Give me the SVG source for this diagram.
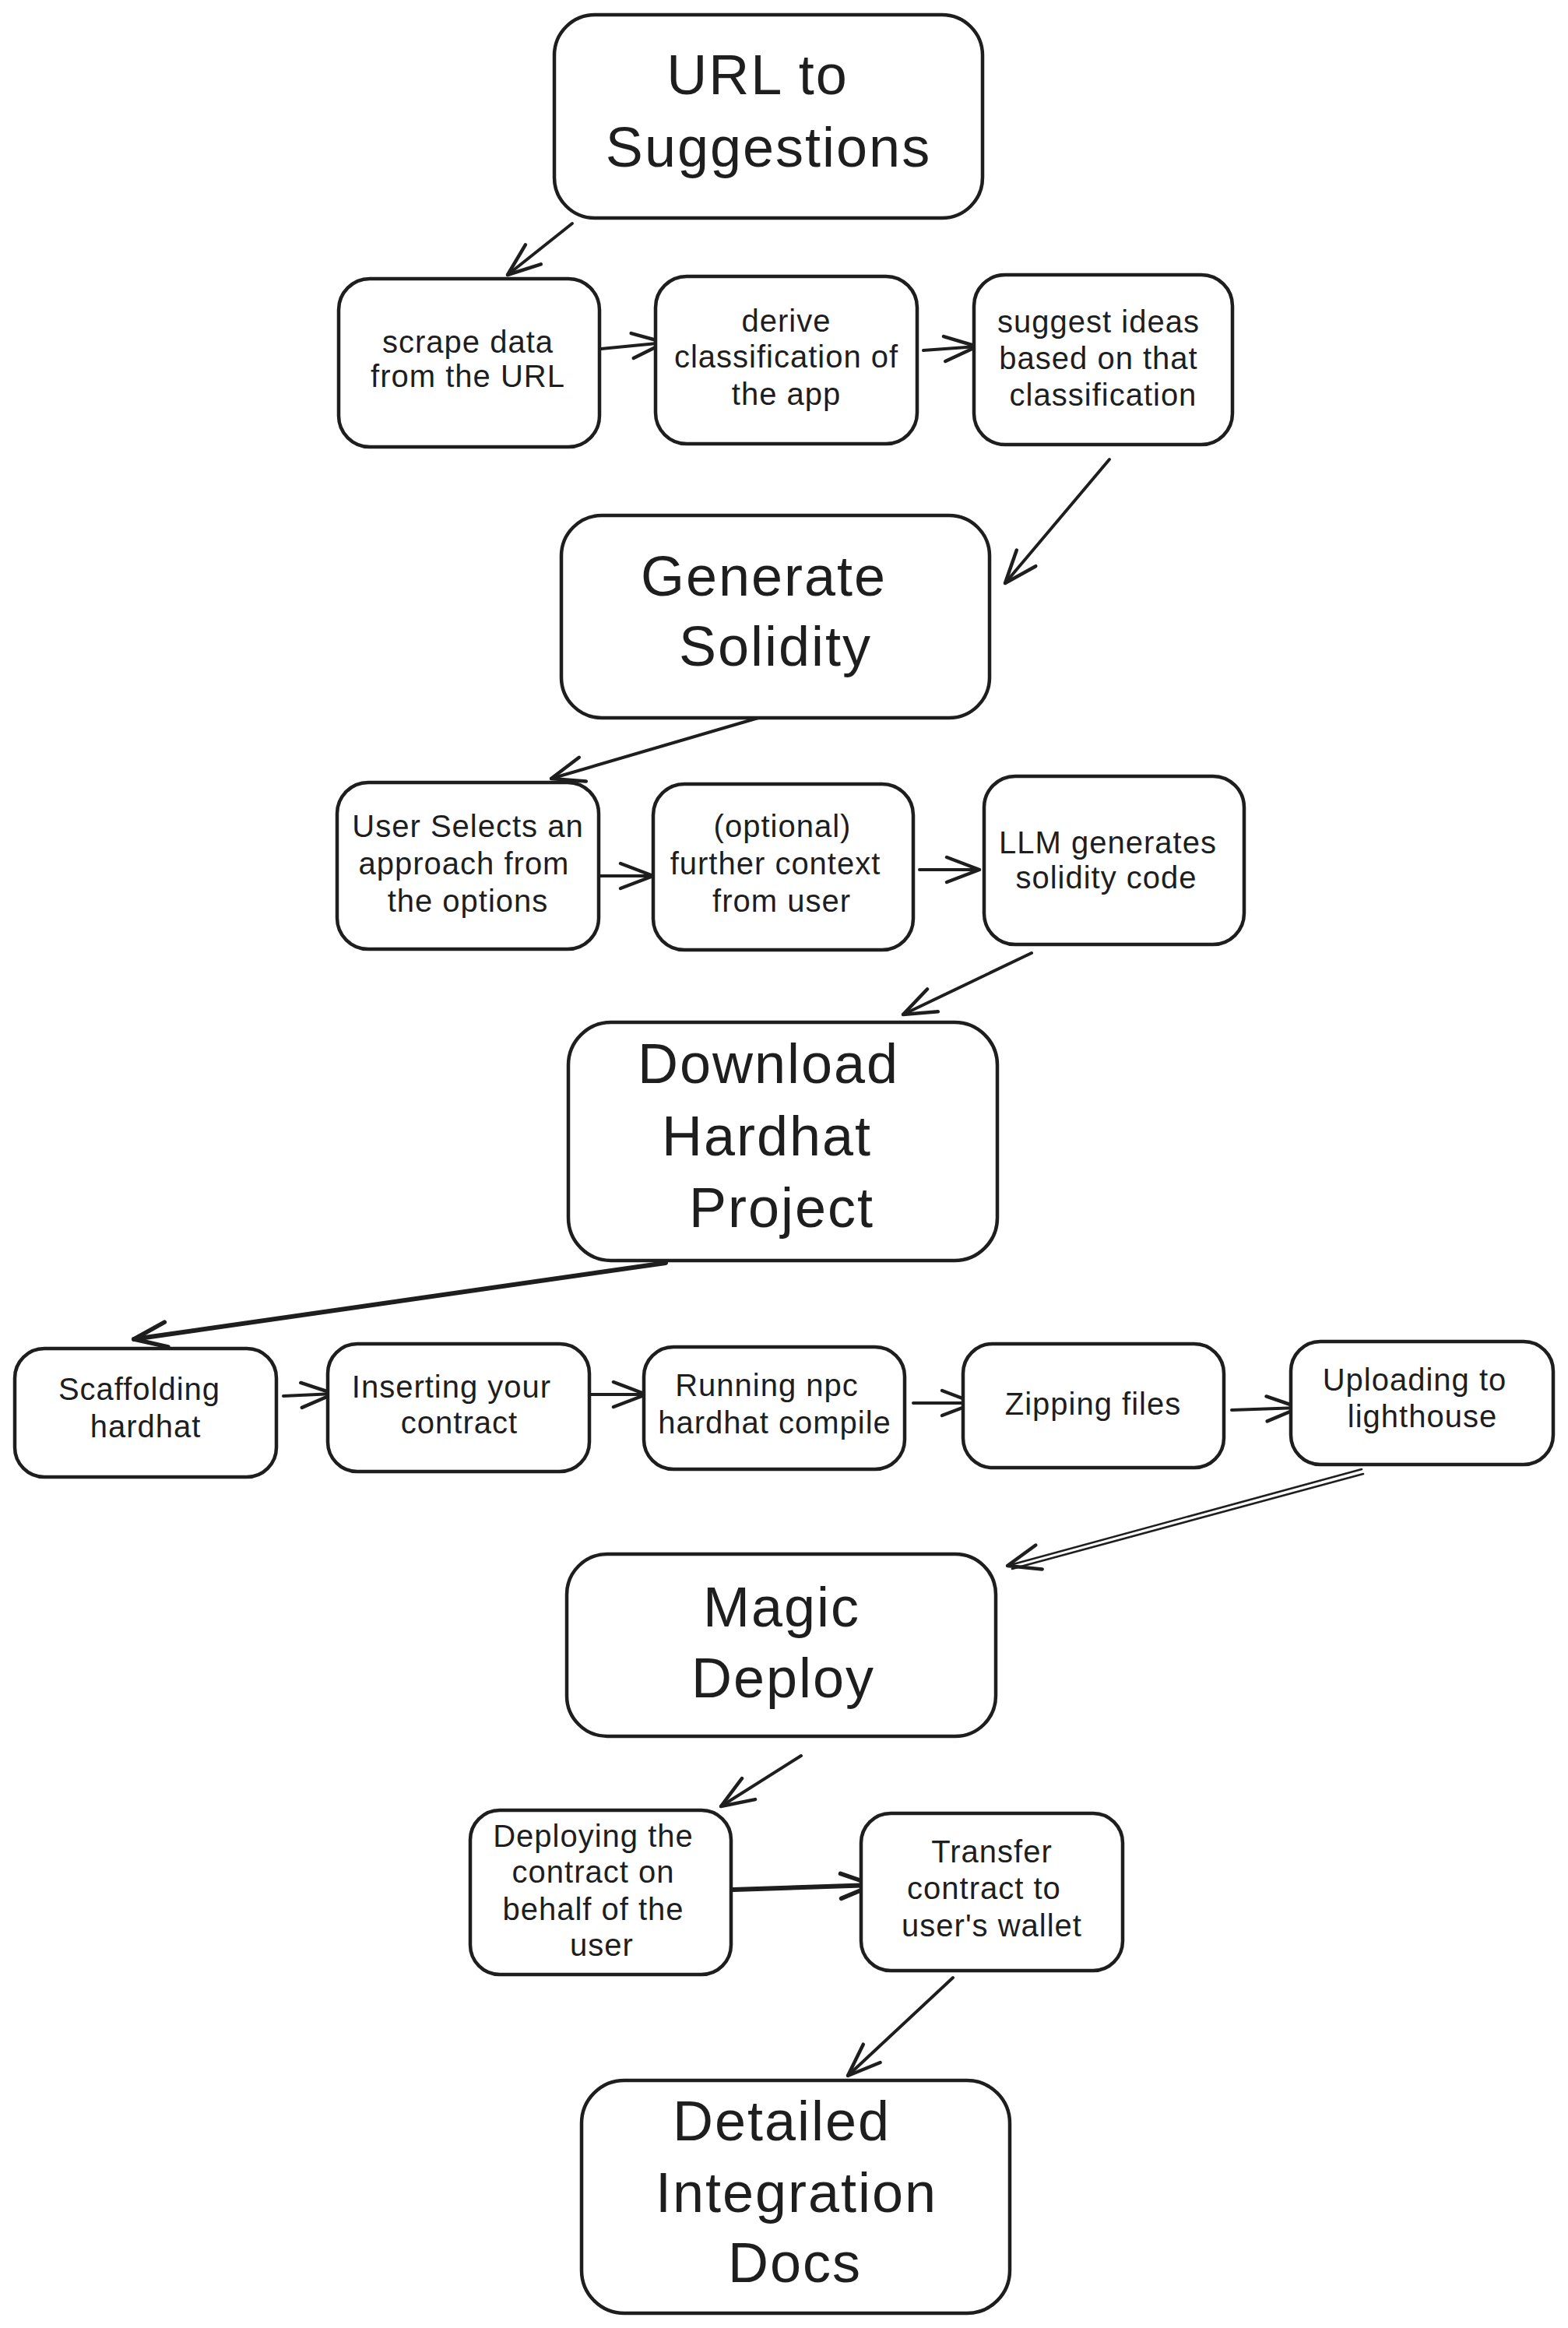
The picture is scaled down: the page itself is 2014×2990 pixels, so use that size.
<svg xmlns="http://www.w3.org/2000/svg" width="2014" height="2990" viewBox="0 0 2014 2990">
<style>
.box{fill:#ffffff;stroke:#1e1e1e;stroke-width:4.5;}
.t{font-family:"Liberation Sans","DejaVu Sans",sans-serif;fill:#1e1e1e;text-anchor:middle;}
.big{font-size:72px;letter-spacing:2px;}
.sm{font-size:40px;letter-spacing:1px;}
.c{fill:none;stroke:#1e1e1e;stroke-width:4;stroke-linecap:round;}
.thick{stroke-width:6;}
.thin{stroke-width:2.6;}
</style>
<defs>
<marker id="ah" viewBox="0 0 52 40" markerWidth="52" markerHeight="40" refX="48" refY="20" orient="auto" markerUnits="userSpaceOnUse" overflow="visible">
<path d="M6,4 L48,20 L6,36" fill="none" stroke="#1e1e1e" stroke-width="4.5" stroke-linecap="round" stroke-linejoin="round"/>
</marker>
<marker id="ahT" viewBox="0 0 52 40" markerWidth="52" markerHeight="40" refX="48" refY="20" orient="auto" markerUnits="userSpaceOnUse" overflow="visible">
<path d="M6,4 L48,20 L6,36" fill="none" stroke="#1e1e1e" stroke-width="5.5" stroke-linecap="round" stroke-linejoin="round"/>
</marker>
</defs>
<rect width="2014" height="2990" fill="#ffffff"/>

<g id="connectors">
<path class="c" d="M735,287 L652,353" marker-end="url(#ah)"/>
<path class="c" d="M772,448 L854,440" marker-end="url(#ah)"/>
<path class="c" d="M1186,450 L1255,445" marker-end="url(#ah)"/>
<path class="c" d="M1425,590 L1291,749" marker-end="url(#ah)"/>
<path class="c" d="M974,922 L708,1000" marker-end="url(#ah)"/>
<path class="c" d="M765,1125 L839,1125" marker-end="url(#ah)"/>
<path class="c" d="M1181,1117 L1258,1117" marker-end="url(#ah)"/>
<path class="c" d="M1325,1224 L1160,1303" marker-end="url(#ah)"/>
<path class="c thick" d="M855,1622 L172,1720" marker-end="url(#ahT)"/>
<path class="c" d="M364,1793 L429,1790" marker-end="url(#ah)"/>
<path class="c" d="M755,1791 L830,1791" marker-end="url(#ah)"/>
<path class="c" d="M1173,1802 L1252,1802" marker-end="url(#ah)"/>
<path class="c" d="M1582,1811 L1669,1808" marker-end="url(#ah)"/>
<path class="c thin" d="M1749,1887 L1294,2011" marker-end="url(#ah)"/>
<path class="c thin" d="M1751,1893 L1300,2015"/>
<path class="c" d="M1029,2255 L926,2320" marker-end="url(#ah)"/>
<path class="c thick" d="M942,2427 L1122,2421" marker-end="url(#ahT)"/>
<path class="c" d="M1224,2540 L1089,2666" marker-end="url(#ah)"/>
</g>

<g id="node-url">
<rect class="box" x="712" y="19" width="550" height="261" rx="52"/>
<text class="t big" x="973" y="121">URL to</text>
<text class="t big" x="987" y="214">Suggestions</text>
</g>
<g id="node-scrape">
<rect class="box" x="435" y="358" width="335" height="216" rx="40"/>
<text class="t sm" x="601" y="453">scrape data</text>
<text class="t sm" x="601" y="497">from the URL</text>
</g>
<g id="node-derive">
<rect class="box" x="842" y="355" width="336" height="215" rx="40"/>
<text class="t sm" x="1010" y="426">derive</text>
<text class="t sm" x="1010" y="472">classification of</text>
<text class="t sm" x="1010" y="520">the app</text>
</g>
<g id="node-suggest">
<rect class="box" x="1251" y="353" width="332" height="218" rx="40"/>
<text class="t sm" x="1411" y="427">suggest ideas</text>
<text class="t sm" x="1411" y="474">based on that</text>
<text class="t sm" x="1417" y="521">classification</text>
</g>
<g id="node-generate">
<rect class="box" x="721" y="662" width="550" height="260" rx="52"/>
<text class="t big" x="981" y="765">Generate</text>
<text class="t big" x="996" y="855">Solidity</text>
</g>
<g id="node-userselect">
<rect class="box" x="433" y="1005" width="336" height="214" rx="40"/>
<text class="t sm" x="601" y="1075">User Selects an</text>
<text class="t sm" x="596" y="1123">approach from</text>
<text class="t sm" x="601" y="1171">the options</text>
</g>
<g id="node-optional">
<rect class="box" x="839" y="1007" width="334" height="213" rx="40"/>
<text class="t sm" x="1005" y="1075">(optional)</text>
<text class="t sm" x="996" y="1123">further context</text>
<text class="t sm" x="1004" y="1171">from user</text>
</g>
<g id="node-llm">
<rect class="box" x="1264" y="997" width="334" height="216" rx="40"/>
<text class="t sm" x="1423" y="1096">LLM generates</text>
<text class="t sm" x="1421" y="1141">solidity code</text>
</g>
<g id="node-download">
<rect class="box" x="730" y="1313" width="551" height="306" rx="55"/>
<text class="t big" x="987" y="1391">Download</text>
<text class="t big" x="985" y="1484">Hardhat</text>
<text class="t big" x="1004" y="1576">Project</text>
</g>
<g id="node-scaffolding">
<rect class="box" x="19" y="1732" width="336" height="165" rx="38"/>
<text class="t sm" x="179" y="1798">Scaffolding</text>
<text class="t sm" x="187" y="1846">hardhat</text>
</g>
<g id="node-inserting">
<rect class="box" x="421" y="1726" width="336" height="164" rx="38"/>
<text class="t sm" x="580" y="1795">Inserting your</text>
<text class="t sm" x="590" y="1841">contract</text>
</g>
<g id="node-running">
<rect class="box" x="827" y="1730" width="335" height="157" rx="38"/>
<text class="t sm" x="985" y="1793">Running npc</text>
<text class="t sm" x="995" y="1841">hardhat compile</text>
</g>
<g id="node-zipping">
<rect class="box" x="1237" y="1726" width="335" height="159" rx="38"/>
<text class="t sm" x="1404" y="1817">Zipping files</text>
</g>
<g id="node-uploading">
<rect class="box" x="1658" y="1723" width="337" height="158" rx="38"/>
<text class="t sm" x="1817" y="1786">Uploading to</text>
<text class="t sm" x="1827" y="1833">lighthouse</text>
</g>
<g id="node-magic">
<rect class="box" x="728" y="1996" width="551" height="234" rx="52"/>
<text class="t big" x="1004" y="2089">Magic</text>
<text class="t big" x="1006" y="2180">Deploy</text>
</g>
<g id="node-deploying">
<rect class="box" x="604" y="2325" width="335" height="211" rx="38"/>
<text class="t sm" x="762" y="2372">Deploying the</text>
<text class="t sm" x="762" y="2418">contract on</text>
<text class="t sm" x="762" y="2466">behalf of the</text>
<text class="t sm" x="773" y="2512">user</text>
</g>
<g id="node-transfer">
<rect class="box" x="1106" y="2329" width="336" height="202" rx="38"/>
<text class="t sm" x="1274" y="2392">Transfer</text>
<text class="t sm" x="1264" y="2439">contract to</text>
<text class="t sm" x="1274" y="2487">user's wallet</text>
</g>
<g id="node-detailed">
<rect class="box" x="747" y="2672" width="550" height="299" rx="55"/>
<text class="t big" x="1004" y="2749">Detailed</text>
<text class="t big" x="1023" y="2841">Integration</text>
<text class="t big" x="1021" y="2931">Docs</text>
</g>
</svg>
